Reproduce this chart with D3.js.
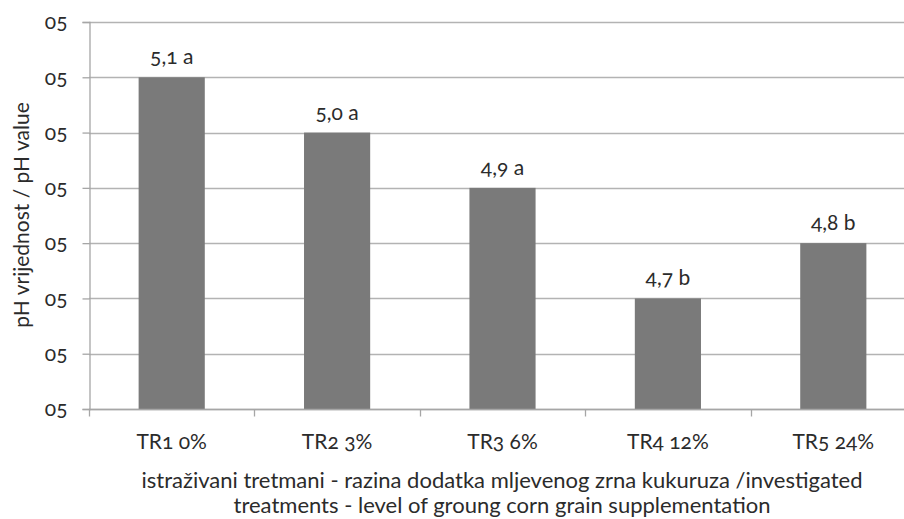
<!DOCTYPE html>
<html>
<head>
<meta charset="utf-8">
<script src="https://cdn.jsdelivr.net/npm/d3@7"></script>
<style>
  body { margin: 0; background: #fff; }
  text { font-family: Lato, "Open Sans", sans-serif; fill: #2b2b2b; font-variant-numeric: oldstyle-nums; font-feature-settings: "onum"; }
</style>
</head>
<body>
<svg></svg>
<script>
const width = 904;
const height = 519;

// data
const categories = ["TR1 0%", "TR2 3%", "TR3 6%", "TR4 12%", "TR5 24%"];
const values = [5.1, 5.0, 4.9, 4.7, 4.8];
const labels = ["5,1 a", "5,0 a", "4,9 a", "4,7 b", "4,8 b"];
const yTicks = [4.5, 4.6, 4.7, 4.8, 4.9, 5.0, 5.1, 5.2];
const yTickLabel = "05";

const fs = 21;

const svg = d3.select('svg')
  .attr('width', width)
  .attr('height', height);

const x = d3.scaleBand()
  .domain(categories)
  .range([89, 916])
  .paddingInner(0.6)
  .paddingOuter(0.3);

const y = d3.scaleLinear()
  .domain([4.5, 5.2])
  .range([409, 22]);

// gridlines
svg.append("g")
  .selectAll("line")
  .data(yTicks)
  .enter()
  .append("line")
  .attr("x1", 89)
  .attr("x2", 916)
  .attr("y1", d => Math.round(y(d)) + 0.5)
  .attr("y2", d => Math.round(y(d)) + 0.5)
  .attr("stroke", "#b3b3b3")
  .attr("stroke-width", 1.3);

// bars
svg.append("g")
  .selectAll("rect")
  .data(values)
  .enter()
  .append("rect")
  .attr("x", (d, i) => x(categories[i]))
  .attr("width", x.bandwidth())
  .attr("y", d => y(d))
  .attr("height", d => y(4.5) - y(d))
  .attr("fill", "#7a7a7a");

// y axis
const yAxis = svg.append("g")
  .attr("transform", "translate(89.5,0)")
  .call(d3.axisLeft(y).tickValues(yTicks).tickSize(7).tickPadding(15).tickFormat(() => yTickLabel));
yAxis.select(".domain").attr("stroke", "#a6a6a6").attr("stroke-width", 1.3);
yAxis.selectAll(".tick line").attr("stroke", "#a6a6a6").attr("stroke-width", 1.3);
yAxis.selectAll(".tick text").attr("font-size", fs).attr("font-family", null).style("fill", "#2b2b2b");

// x axis
const xAxis = svg.append("g")
  .attr("transform", "translate(0,409.5)");
xAxis.append("line")
  .attr("x1", 89).attr("x2", 916)
  .attr("stroke", "#a6a6a6").attr("stroke-width", 1.3);
const bounds = categories.map(c => x(c) - x.step() * x.paddingInner() / 2);
bounds.push(916);
xAxis.selectAll("line.tk")
  .data(bounds)
  .enter()
  .append("line")
  .attr("class", "tk")
  .attr("x1", d => Math.round(d) + 0.5)
  .attr("x2", d => Math.round(d) + 0.5)
  .attr("y1", 0)
  .attr("y2", 7)
  .attr("stroke", "#a6a6a6")
  .attr("stroke-width", 1.3);
xAxis.selectAll("text")
  .data(categories)
  .enter()
  .append("text")
  .attr("x", d => x(d) + x.bandwidth() / 2)
  .attr("y", 39.5)
  .attr("text-anchor", "middle")
  .attr("font-size", fs)
  .text(d => d);

// value labels
svg.append("g")
  .selectAll("text")
  .data(values)
  .enter()
  .append("text")
  .attr("x", (d, i) => x(categories[i]) + x.bandwidth() / 2)
  .attr("y", d => y(d) - 13)
  .attr("text-anchor", "middle")
  .attr("font-size", fs)
  .text((d, i) => labels[i]);

// axis titles
svg.append("text")
  .attr("transform", "translate(29,215) rotate(-90)")
  .attr("text-anchor", "middle")
  .attr("font-size", fs)
  .text("pH vrijednost / pH value");

const xTitle = svg.append("text")
  .attr("text-anchor", "middle")
  .attr("font-size", 22);
xTitle.append("tspan")
  .attr("x", 502).attr("y", 488)
  .text("istraživani tretmani - razina dodatka mljevenog zrna kukuruza /investigated");
xTitle.append("tspan")
  .attr("x", 502).attr("y", 513)
  .text("treatments - level of groung corn grain supplementation");
</script>
</body>
</html>
